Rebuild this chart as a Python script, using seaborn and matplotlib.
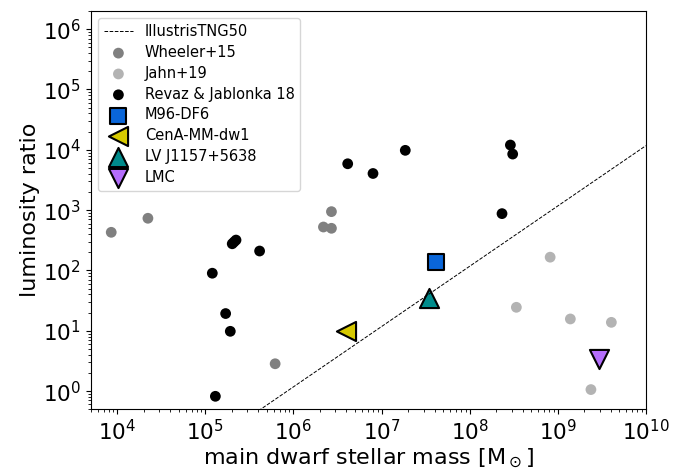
import numpy as np
import matplotlib
matplotlib.use('Agg')
import matplotlib.pyplot as plt
import seaborn as sns

# stellar mass [Msun] and luminosity ratio
wheeler_mass = [8.55e3, 2.23e4, 6.2e5, 2.7e6, 2.19e6, 2.7e6]
wheeler_ratio = [429, 733, 2.84, 944, 525, 500]

jahn_mass = [8.2e8, 3.39e8, 1.39e9, 4.06e9, 2.38e9]
jahn_ratio = [166, 24.5, 15.7, 13.8, 1.06]

revaz_mass = [4.13e6, 8.0e6, 2.02e5, 2.12e5, 2.23e5, 4.13e5, 1.2e5, 1.70e5,
              1.92e5, 1.30e5, 1.86e7, 2.9e8, 3.08e8, 2.33e8]
revaz_ratio = [5870, 4050, 277, 297, 319, 210, 90, 19.3,
               9.8, 0.82, 9800, 12000, 8500, 875]

# IllustrisTNG50 relation (end points of the dashed line)
tng_mass = [5e3, 1e10]
tng_ratio = [5.9e-3, 1.17e4]

# single objects
m96_mass, m96_ratio = [4.1e7], [136]
cena_mass, cena_ratio = [3.95e6], [9.9]
lvj_mass, lvj_ratio = [3.44e7], [35]
lmc_mass, lmc_ratio = [2.95e9], [3.38]

fig, ax = plt.subplots(figsize=(6.82, 4.68), dpi=100)
fig.subplots_adjust(left=0.133, right=0.947, top=0.9765, bottom=0.1255)

sns.lineplot(x=tng_mass, y=tng_ratio, ax=ax, color='black', lw=0.7,
             linestyle='--', label='IllustrisTNG50')

sns.scatterplot(x=wheeler_mass, y=wheeler_ratio, ax=ax, color='#808080',
                s=60, edgecolor='none', label='Wheeler+15')
sns.scatterplot(x=jahn_mass, y=jahn_ratio, ax=ax, color='#b3b3b3',
                s=60, edgecolor='none', label='Jahn+19')
sns.scatterplot(x=revaz_mass, y=revaz_ratio, ax=ax, color='black',
                s=60, edgecolor='none', label='Revaz & Jablonka 18')

sns.scatterplot(x=m96_mass, y=m96_ratio, ax=ax, color='#0a66d9', marker='s',
                s=130, edgecolor='black', linewidth=1.5, label='M96-DF6')
sns.scatterplot(x=cena_mass, y=cena_ratio, ax=ax, color='#d6c900', marker='<',
                s=190, edgecolor='black', linewidth=1.5, label='CenA-MM-dw1')
sns.scatterplot(x=lvj_mass, y=lvj_ratio, ax=ax, color='#008b8b', marker='^',
                s=190, edgecolor='black', linewidth=1.5, label='LV J1157+5638')
sns.scatterplot(x=lmc_mass, y=lmc_ratio, ax=ax, color='#b46dfb', marker='v',
                s=190, edgecolor='black', linewidth=1.5, label='LMC')

ax.set_xscale('log')
ax.set_yscale('log')
ax.set_xlim(5e3, 1e10)
ax.set_ylim(0.5, 2e6)

ax.set_xlabel(r'main dwarf stellar mass [M$_\odot$]', fontsize=16, labelpad=2)
ax.set_ylabel('luminosity ratio', fontsize=16, labelpad=2)
ax.tick_params(axis='both', which='major', labelsize=15.5)

ax.legend(loc='upper left', fontsize=10.5, labelspacing=0.4)

fig.savefig('out.png', dpi=100)
